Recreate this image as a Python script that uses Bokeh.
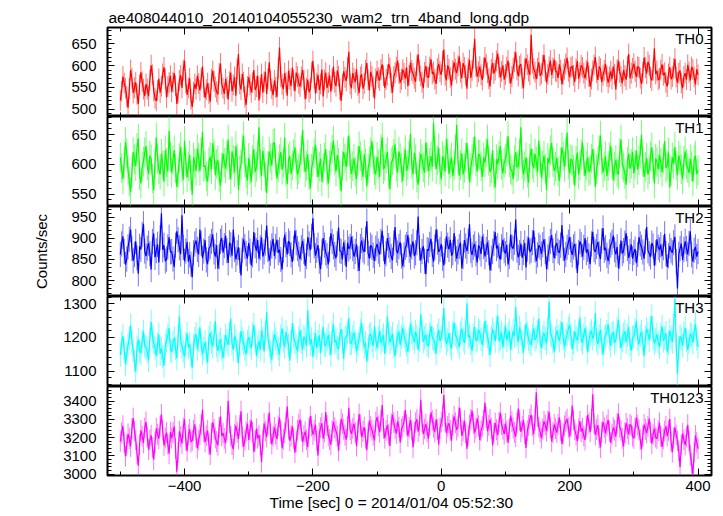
import numpy as np
from bokeh.plotting import figure
from bokeh.layouts import column
from bokeh.models import (Range1d, LinearAxis, SingleIntervalTicker, FixedTicker,
                          Label, Title)
from bokeh.embed import file_html
from bokeh.resources import INLINE

TITLE = "ae408044010_20140104055230_wam2_trn_4band_long.qdp"
XLABEL = "Time [sec] 0 = 2014/01/04 05:52:30"
YLABEL = "Counts/sec"

# bin times (sec), 2 s bins
TIME = np.arange(-500, 401, 2)

TH0 = [520,541, 575,560, 548,529, 503,547, 590,571, 537,549, 562,534, 512,556, 585,563, 546,530,
       558,546, 530,567, 601,579, 542,525, 519,543, 570,538, 553,581, 596,570, 527,552, 561,577,
       540,562, 583,554, 512,537, 566,578, 549,590, 612,561, 533,549, 571,523, 505,539, 558,546,
       577,559, 543,571, 598,552, 526,545, 560,536, 517,569, 588,564, 551,540, 534,582, 605,557,
       548,535, 569,550, 522,563, 584,541, 556,574, 531,592, 627,558, 545,581, 562,528, 510,552,
       573,556, 539,561, 590,544, 552,577, 520,549, 581,538, 563,586, 535,570, 608,565, 547,532,
       566,550, 528,593, 642,574, 557,546, 583,562, 531,588, 569,553, 596,567, 541,584, 575,559,
       552,574, 590,566, 523,548, 568,539, 547,585, 611,572, 536,560, 579,544, 558,591, 529,567,
       584,549, 561,578, 540,569, 598,562, 553,589, 576,545, 519,557, 587,573, 565,596, 632,558,
       548,583, 571,562, 592,555, 537,574, 580,547, 559,590, 606,568, 543,586, 575,551, 524,570,
       588,572, 566,591, 603,577, 549,568, 579,604, 595,560, 538,575, 584,597, 612,582, 561,569,
       591,583, 570,596, 553,578, 607,589, 582,571, 563,600, 626,588, 577,562, 548,585, 599,574,
       573,597, 615,581, 586,569, 558,593, 604,587, 579,610, 637,578, 566,601, 592,573, 554,589,
       608,592, 583,600, 621,585, 571,606, 596,578, 547,594, 613,572, 589,617, 662,598, 575,586,
       598,579, 567,595, 619,603, 584,570, 552,591, 606,582, 590,611, 628,596, 573,587, 601,568,
       580,597, 612,583, 559,575, 594,609, 631,590, 576,599, 604,571, 548,593, 617,602, 588,579,
       671,606, 593,585, 569,594, 608,577, 582,601, 625,589, 561,580, 597,612, 579,595, 614,588,
       586,572, 603,590, 557,581, 592,604, 618,587, 574,596, 599,578, 563,593, 611,570, 584,601,
       596,583, 571,590, 609,575, 552,569, 588,602, 620,584, 567,598, 593,562, 578,589, 604,576,
       561,574, 587,569, 598,580, 545,591, 612,585, 576,560, 590,577, 568,599, 627,571, 583,594,
       605,587, 574,598, 596,571, 558,584, 619,596, 582,609, 601,573, 566,590, 640,581, 588,567,
       571,590, 603,578, 584,562, 552,581, 597,569, 575,593, 616,574, 561,583, 589,560, 548,575,
       583,568, 602,585, 566,597, 591,574, 557,592, 579]

TH1 = [612,594, 575,603, 638,619, 590,571, 553,586, 621,609, 597,628, 644,582, 568,596, 605,620,
       631,598, 584,615, 609,577, 557,601, 646,610, 592,583, 618,599, 571,624, 603,588, 657,613,
       586,607, 624,593, 562,585, 611,630, 595,574, 640,605, 578,597, 616,581, 549,612, 602,589,
       627,611, 589,620, 655,596, 598,580, 571,604, 613,592, 636,617, 582,601, 607,578, 564,595,
       619,603, 593,614, 642,599, 575,622, 608,587, 631,610, 557,590, 600,626, 648,604, 585,573,
       611,592, 570,608, 626,587, 596,615, 663,601, 581,623, 604,579, 552,597, 622,611, 598,635,
       637,606, 576,595, 609,621, 591,603, 645,588, 567,609, 614,584, 598,617, 629,600, 583,592,
       602,624, 658,613, 587,598, 617,582, 560,593, 605,619, 633,604, 579,596, 610,571, 594,612,
       626,590, 568,599, 612,625, 640,607, 588,616, 603,581, 555,598, 621,610, 596,622, 649,601,
       584,597, 610,588, 575,606, 631,614, 598,579, 617,602, 563,593, 605,620, 639,608, 590,583,
       613,600, 579,626, 646,592, 597,610, 621,585, 558,603, 607,618, 634,597, 586,622, 611,594,
       572,604, 625,589, 599,615, 652,601, 583,620, 609,578, 566,597, 618,609, 595,586, 637,612,
       589,603, 614,596, 671,622, 592,607, 628,591, 575,614, 606,588, 643,619, 584,602, 612,580,
       598,625, 667,608, 581,599, 619,583, 594,612, 636,601, 570,594, 609,621, 647,605, 588,617,
       616,597, 579,612, 603,620, 642,606, 587,593, 624,584, 561,609, 600,615, 631,599, 585,603,
       609,621, 648,604, 592,589, 575,607, 621,595, 598,618, 663,600, 583,597, 612,586, 569,610,
       627,601, 594,618, 605,587, 640,608, 578,599, 615,593, 557,611, 602,624, 636,604, 589,596,
       611,588, 572,603, 629,614, 596,622, 654,600, 585,609, 607,591, 564,606, 620,583, 598,617,
       637,606, 580,598, 612,588, 591,610, 626,601, 562,592, 605,624, 649,608, 586,597, 614,580,
       597,612, 631,603, 574,596, 608,587, 583,619, 642,600, 595,584, 566,605, 618,593, 601,621,
       585,600, 623,591, 607,618, 650,605, 579,596, 611,583, 592,613, 629,599, 568,610, 604,592,
       616,603, 587,610, 639,594, 598,620, 561,589, 612,601, 630,598, 582,615, 607,592, 575,606,
       622,601, 594,586, 609,597, 571,608, 615,584, 590]

TH2 = [862,887, 905,869, 838,851, 880,898, 921,876, 847,862, 893,854, 816,881, 874,909, 935,870,
       858,877, 889,864, 826,893, 912,855, 871,886, 843,902, 960,873, 884,846, 851,880, 903,868,
       869,851, 832,884, 917,897, 878,863, 955,879, 846,870, 892,845, 861,839, 808,866, 887,895,
       874,862, 921,888, 853,870, 896,849, 839,876, 881,893, 910,868, 857,884, 828,857, 893,901,
       866,883, 907,871, 842,890, 885,859, 921,874, 850,866, 879,848, 812,872, 898,881, 864,852,
       889,870, 836,861, 915,883, 871,896, 852,878, 903,857, 868,889, 931,874, 847,865, 882,899,
       858,881, 897,866, 873,850, 826,872, 909,885, 862,894, 888,861, 844,877, 919,890, 876,863,
       851,878, 894,869, 835,857, 903,887, 872,905, 948,883, 859,872, 884,846, 827,868, 901,884,
       866,859, 838,874, 912,893, 880,862, 853,887, 926,871, 869,850, 891,866, 832,890, 875,881,
       904,876, 857,869, 886,852, 823,881, 895,873, 868,898, 941,865, 852,884, 879,860, 846,877,
       887,870, 862,893, 918,876, 839,864, 901,883, 873,857, 848,889, 927,872, 865,881, 891,858,
       834,861, 879,885, 908,872, 856,880, 893,858, 866,890, 952,877, 848,869, 882,846, 815,874,
       871,886, 899,862, 845,879, 922,891, 868,874, 887,853, 836,870, 905,884, 874,897, 859,866,
       913,875, 852,868, 881,890, 829,857, 896,882, 870,893, 934,871, 861,879, 887,864, 843,884,
       878,863, 905,881, 857,874, 891,866, 824,853, 869,888, 915,876, 883,859, 850,880, 897,871,
       864,885, 838,857, 909,880, 876,891, 945,872, 855,866, 888,854, 867,889, 831,875, 902,868,
       872,890, 919,873, 846,861, 884,879, 863,885, 898,869, 827,856, 875,893, 908,871, 853,882,
       889,870, 866,884, 932,876, 848,862, 879,891, 904,873, 861,880, 887,858, 818,867, 893,885,
       857,879, 901,866, 874,858, 839,887, 916,874, 868,881, 892,863, 851,894, 925,872, 878,860,
       846,868, 884,891, 907,873, 862,880, 829,857, 895,864, 871,889, 913,876, 854,869, 886,852,
       867,875, 841,862, 903,887, 879,868, 852,893, 927,871, 864,856, 889,882, 835,866, 898,879,
       873,885, 858,878, 911,864, 832,859, 882,871, 866,890, 904,845, 781,862, 876,888, 849,874,
       893,876, 862,888, 917,861, 845,872, 880,857, 869]

TH3 = [1148,1183, 1205,1166, 1121,1152, 1177,1198, 1236,1187, 1162,1130, 1099,1171, 1194,1160, 1153,1189, 1218,1175,
       1170,1158, 1132,1196, 1247,1201, 1185,1169, 1146,1180, 1209,1151, 1168,1143, 1115,1178, 1191,1207, 1228,1163,
       1157,1185, 1199,1167, 1138,1203, 1262,1190, 1174,1159, 1143,1182, 1212,1170, 1181,1147, 1109,1175, 1196,1211,
       1165,1192, 1230,1178, 1152,1168, 1187,1155, 1126,1199, 1214,1186, 1173,1207, 1249,1176, 1160,1183, 1195,1164,
       1139,1174, 1207,1190, 1178,1213, 1256,1181, 1163,1205, 1192,1158, 1124,1179, 1219,1196, 1184,1166, 1150,1188,
       1201,1182, 1167,1209, 1238,1193, 1145,1172, 1189,1163, 1221,1197, 1158,1215, 1276,1200, 1176,1157, 1134,1185,
       1210,1195, 1183,1168, 1149,1204, 1227,1190, 1171,1216, 1198,1177, 1131,1188, 1243,1202, 1186,1173, 1159,1198,
       1222,1187, 1164,1203, 1195,1175, 1281,1210, 1179,1196, 1141,1182, 1213,1169, 1188,1206, 1154,1191, 1232,1178,
       1176,1194, 1207,1181, 1147,1212, 1239,1185, 1192,1170, 1166,1208, 1225,1189, 1137,1199, 1201,1215, 1258,1183,
       1183,1202, 1215,1188, 1160,1179, 1197,1221, 1244,1196, 1172,1184, 1128,1167, 1206,1211, 1189,1174, 1234,1193,
       1168,1199, 1220,1184, 1193,1207, 1151,1190, 1262,1213, 1185,1196, 1211,1172, 1144,1186, 1203,1218, 1177,1201,
       1229,1205, 1190,1178, 1156,1196, 1241,1214, 1198,1186, 1217,1203, 1163,1192, 1270,1224, 1187,1199, 1208,1180,
       1174,1210, 1235,1198, 1195,1183, 1152,1206, 1222,1189, 1201,1227, 1288,1204, 1180,1192, 1213,1179, 1166,1215,
       1244,1208, 1199,1186, 1171,1213, 1226,1195, 1184,1219, 1302,1201, 1207,1182, 1160,1206, 1231,1190, 1193,1222,
       1216,1194, 1178,1207, 1249,1218, 1203,1183, 1147,1200, 1224,1211, 1189,1228, 1265,1189, 1197,1215, 1170,1204,
       1235,1191, 1208,1220, 1163,1197, 1219,1204, 1291,1209, 1186,1230, 1212,1188, 1155,1202, 1241,1214, 1195,1185,
       1178,1206, 1227,1193, 1200,1217, 1256,1188, 1169,1201, 1214,1196, 1182,1223, 1307,1211, 1204,1187, 1158,1199,
       1221,1203, 1190,1214, 1246,1197, 1173,1192, 1209,1226, 1237,1208, 1165,1185, 1218,1200, 1192,1216, 1259,1194,
       1184,1207, 1228,1199, 1157,1189, 1212,1220, 1196,1210, 1273,1193, 1181,1205, 1223,1186, 1148,1198, 1206,1217,
       1240,1196, 1175,1211, 1215,1184, 1193,1226, 1252,1203, 1168,1190, 1209,1218, 1186,1207, 1231,1179, 1161,1200,
       1202,1224, 1248,1195, 1179,1206, 1217,1188, 1144,1201, 1226,1212, 1191,1230, 1264,1197, 1183,1193, 1210,1185,
       1171,1209, 1233,1190, 1198,1214, 1156,1183, 1221,1200, 1187,1236, 1315,1178, 1092,1169, 1204,1195, 1176,1211,
       1229,1192, 1163,1187, 1211,1205, 1185,1218, 1240,1196, 1172]

TH0123 = [3180,3226, 3265,3174, 3098,3158, 3221,3195, 3152,3248, 3307,3237, 3189,3113, 3046,3162, 3240,3209, 3171,3253,
          3286,3204, 3135,3187, 3213,3146, 3079,3172, 3251,3218, 3194,3263, 3328,3241, 3157,3199, 3228,3165, 3112,3231,
          3197,3228, 3262,3141, 3014,3119, 3235,3206, 3168,3254, 3301,3189, 3126,3215, 3247,3176, 3185,3239, 3273,3201,
          3142,3187, 3218,3270, 3354,3232, 3176,3211, 3239,3164, 3107,3223, 3284,3246, 3199,3178, 3158,3257, 3316,3209,
          3225,3196, 3170,3244, 3402,3281, 3208,3162, 3137,3219, 3266,3230, 3193,3268, 3345,3205, 3151,3186, 3234,3277,
          3188,3242, 3295,3229, 3121,3183, 3248,3197, 3214,3160, 3066,3185, 3279,3236, 3203,3271, 3337,3222, 3165,3208,
          3256,3219, 3192,3265, 3310,3238, 3143,3192, 3227,3284, 3371,3247, 3183,3210, 3262,3196, 3118,3179, 3241,3273,
          3299,3238, 3176,3211, 3233,3189, 3148,3250, 3318,3263, 3217,3240, 3271,3184, 3102,3226, 3254,3279, 3195,3232,
          3340,3267, 3212,3190, 3161,3238, 3287,3254, 3236,3209, 3128,3221, 3302,3276, 3245,3214, 3189,3259, 3363,3243,
          3221,3250, 3276,3228, 3154,3241, 3329,3272, 3203,3234, 3258,3197, 3131,3225, 3294,3261, 3242,3213, 3185,3286,
          3312,3264, 3230,3293, 3378,3251, 3197,3239, 3268,3218, 3154,3276, 3325,3283, 3249,3222, 3290,3258, 3173,3247,
          3261,3289, 3351,3270, 3208,3256, 3296,3241, 3147,3229, 3282,3301, 3233,3265, 3407,3287, 3219,3248, 3274,3232,
          3195,3268, 3338,3294, 3257,3230, 3301,3245, 3162,3251, 3286,3317, 3433,3290, 3224,3262, 3279,3240, 3183,3271,
          3317,3282, 3242,3259, 3365,3304, 3210,3237, 3293,3226, 3139,3211, 3270,3299, 3348,3276, 3228,3253, 3305,3266,
          3187,3239, 3262,3296, 3392,3311, 3235,3268, 3299,3252, 3158,3224, 3281,3243, 3214,3285, 3336,3271, 3246,3219,
          3277,3236, 3171,3248, 3320,3287, 3253,3229, 3205,3280, 3359,3294, 3232,3261, 3298,3223, 3144,3238, 3267,3302,
          3325,3264, 3219,3297, 3448,3316, 3258,3232, 3197,3246, 3289,3270, 3236,3291, 3342,3255, 3180,3227, 3271,3249,
          3228,3272, 3311,3240, 3165,3221, 3264,3287, 3302,3255, 3207,3263, 3376,3296, 3243,3214, 3181,3248, 3290,3233,
          3251,3210, 3187,3262, 3323,3279, 3232,3301, 3438,3276, 3215,3244, 3269,3198, 3146,3230, 3287,3256, 3224,3267,
          3298,3235, 3173,3219, 3255,3241, 3206,3278, 3331,3257, 3239,3196, 3152,3227, 3279,3250, 3218,3273, 3264,3209,
          3196,3252, 3310,3268, 3243,3189, 3137,3211, 3272,3245, 3225,3262, 3305,3230, 3168,3217, 3250,3203, 3194,3238,
          3281,3206, 3149,3193, 3236,3262, 3209,3240, 3302,3177, 3121,3198, 3257,3215, 3183,3129, 3038,3160, 3224,3187,
          3160,3203, 3271,3182, 3105,3061, 2998,3119, 3212,3175, 3140]

NAMES = ["TH0", "TH1", "TH2", "TH3", "TH0123"]
SERIES = [TH0, TH1, TH2, TH3, TH0123]
ERRORS = [24, 25, 30, 35, 57]
YRANGES = [(483, 688), (529, 681), (762, 976), (1054, 1322), (2993, 3480)]
YTICK_STEP = [50, 50, 50, 100, 100]
COLORS = ["#ff0000", "#00ff00", "#0000ff", "#00ffff", "#ff00ff"]
XRANGE = (-520, 421)
XTICK_STEP = 200
XMINOR_STEP = 100

FONT = "Liberation Sans"
FS = "15px"
FS_BIG = "15.5px"
FRAME_H = [89, 90, 90, 90, 89]

xr = Range1d(*XRANGE)


def tick_lists(lo, hi, step, minor_step):
    first = np.ceil(lo / minor_step) * minor_step
    allt = np.arange(first, hi + 1e-9, minor_step)
    majors = [float(v) for v in allt if abs(v / step - round(v / step)) < 1e-9]
    minors = [float(v) for v in allt if abs(v / step - round(v / step)) >= 1e-9]
    return majors, minors


def style_axis(ax):
    ax.axis_line_color = None
    ax.major_tick_in = 7
    ax.major_tick_out = 0
    ax.minor_tick_in = 4
    ax.minor_tick_out = 0
    ax.major_tick_line_color = "black"
    ax.minor_tick_line_color = "black"
    ax.major_label_text_font = FONT
    ax.major_label_text_font_size = FS
    ax.major_label_text_color = "black"


def add_tick_only_axes(p, side, majors, minors):
    # axes that draw inward ticks only (no labels)
    for ticks, length in ((majors, 7), (minors, 4)):
        ax = LinearAxis(ticker=FixedTicker(ticks=[], minor_ticks=ticks))
        ax.axis_line_color = None
        ax.major_tick_in = 0
        ax.major_tick_out = 0
        ax.minor_tick_in = length
        ax.minor_tick_out = 0
        ax.minor_tick_line_color = "black"
        ax.major_label_standoff = 0
        p.add_layout(ax, side)


x_majors, x_minors = tick_lists(XRANGE[0], XRANGE[1], XTICK_STEP, XMINOR_STEP)

figs = []
n = len(NAMES)
for i in range(n):
    lo, hi = YRANGES[i]
    first = i == 0
    last = i == n - 1
    p = figure(frame_width=604, frame_height=FRAME_H[i],
               x_range=xr, y_range=Range1d(lo, hi),
               x_axis_location=None, y_axis_location=None,
               output_backend="svg", toolbar_location=None,
               min_border_left=107, min_border_right=4,
               min_border_top=27 if first else 0,
               min_border_bottom=40 if last else 0)
    p.xgrid.visible = False
    p.ygrid.visible = False
    p.outline_line_color = "black"
    p.outline_line_width = 2
    p.outline_line_alpha = 1
    p.background_fill_color = "white"
    p.border_fill_color = "white"

    ystep = YTICK_STEP[i]
    y_majors, y_minors = tick_lists(lo, hi, ystep, ystep / 5)

    left = LinearAxis(ticker=SingleIntervalTicker(interval=ystep, num_minor_ticks=5))
    style_axis(left)
    left.major_label_standoff = 11
    if i == 2:
        left.axis_label = YLABEL
        left.axis_label_text_font = FONT
        left.axis_label_text_font_size = FS
        left.axis_label_text_font_style = "normal"
        left.axis_label_text_color = "black"
        left.axis_label_standoff = 18
    p.add_layout(left, "left")

    add_tick_only_axes(p, "right", y_majors, y_minors)
    add_tick_only_axes(p, "above", x_majors, x_minors)

    if last:
        bottom = LinearAxis(ticker=SingleIntervalTicker(interval=XTICK_STEP, num_minor_ticks=2))
        style_axis(bottom)
        bottom.major_label_standoff = 5
        bottom.major_label_overrides = {-400: "\u2212400", -200: "\u2212200"}
        p.add_layout(bottom, "below")
    else:
        add_tick_only_axes(p, "below", x_majors, x_minors)

    y = np.array(SERIES[i], dtype=float)
    t = TIME[:len(y)]
    e = ERRORS[i]
    p.segment(x0=t, y0=y - e, x1=t, y1=y + e,
              line_color=COLORS[i], line_alpha=0.55, line_width=1)
    p.line(t, y, line_color=COLORS[i], line_width=1.2)

    p.add_layout(Label(x=XRANGE[1], y=hi, x_offset=-8, y_offset=-2,
                       text=NAMES[i], text_align="right", text_baseline="top",
                       text_font=FONT, text_font_size=FS, text_color="black"))

    if first:
        p.title.text = TITLE
        p.title.align = "left"
        p.title.offset = 1
        p.title.text_font = FONT
        p.title.text_font_size = FS_BIG
        p.title.text_font_style = "normal"
        p.title.text_color = "black"
        p.title.standoff = 4
    if last:
        p.add_layout(Title(text=XLABEL, align="left", offset=162,
                           text_font=FONT, text_font_size=FS_BIG,
                           text_font_style="normal", text_color="black",
                           standoff=-4), "below")
    figs.append(p)

layout = column(*figs, spacing=0)
open("out.html", "w").write(file_html(layout, INLINE))
